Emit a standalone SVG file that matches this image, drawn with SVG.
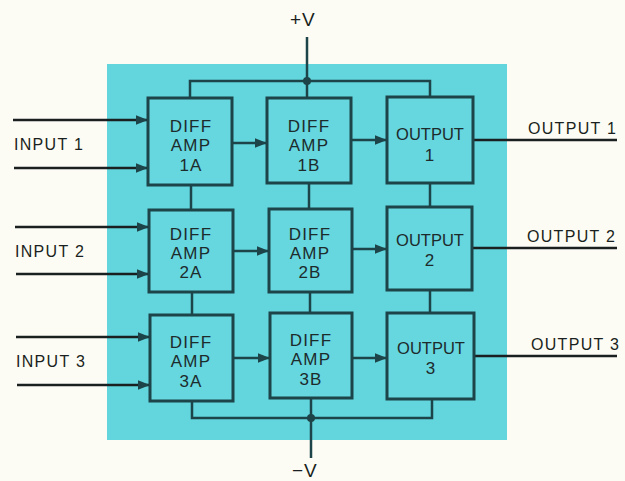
<svg xmlns="http://www.w3.org/2000/svg" width="625" height="481" viewBox="0 0 625 481">
<defs>
<marker id="ah" viewBox="0 0 10 10" refX="10" refY="5" markerWidth="5" markerHeight="5" orient="auto" markerUnits="strokeWidth">
<path d="M0,1 L10,5 L0,9 Z" fill="#1d4448"/>
</marker>
</defs>
<style>
.bg{fill:#fcfcf4}
.panel{fill:#62d5dd}
.box{fill:#66d6df;stroke:#1d4448;stroke-width:3}
.ln{stroke:#1d4448;stroke-width:2.5;fill:none}
.lo{stroke:#1a1f20;stroke-width:2.5;fill:none}
.t{font-family:"Liberation Sans",Arial,sans-serif;font-size:17px;fill:#1d2b2c;text-anchor:middle;letter-spacing:1.2px}
.o{letter-spacing:0px;font-size:16.5px}
.lab{font-family:"Liberation Sans",Arial,sans-serif;font-size:16px;fill:#1a1f20;letter-spacing:1.3px}
.pv{font-size:19px;letter-spacing:1px}
</style>
<rect class="bg" x="0" y="0" width="625" height="481"/>
<rect class="panel" x="107" y="64" width="400" height="376"/>
<g id="connectors">
<path class="ln" d="M190,98 V81 H430 V97"/>
<path class="ln" d="M307,37 V98"/>
<circle cx="307" cy="81" r="4" fill="#1d4448"/>
<path class="ln" d="M192,401 V418 H432 V399"/>
<path class="ln" d="M311,398 V458"/>
<circle cx="311" cy="418" r="4" fill="#1d4448"/>
<path class="ln" d="M191,185 V210"/>
<path class="ln" d="M309,183 V209"/>
<path class="ln" d="M430,183 V207"/>
<path class="ln" d="M192,292 V315"/>
<path class="ln" d="M310,292 V313"/>
<path class="ln" d="M430,290 V313"/>
<path class="lo" d="M13,120 H148" marker-end="url(#ah)"/>
<path class="lo" d="M14,168 H148" marker-end="url(#ah)"/>
<path class="lo" d="M15,227 H149" marker-end="url(#ah)"/>
<path class="lo" d="M16,274 H149" marker-end="url(#ah)"/>
<path class="lo" d="M16,337 H150" marker-end="url(#ah)"/>
<path class="lo" d="M17,385 H150" marker-end="url(#ah)"/>
<path class="ln" d="M232,143 H267" marker-end="url(#ah)"/>
<path class="ln" d="M351,140 H387" marker-end="url(#ah)"/>
<path class="ln" d="M233,251 H269" marker-end="url(#ah)"/>
<path class="ln" d="M352,249 H387" marker-end="url(#ah)"/>
<path class="ln" d="M233,358 H270" marker-end="url(#ah)"/>
<path class="ln" d="M352,358 H387" marker-end="url(#ah)"/>
<path class="lo" d="M473,140 H617"/>
<path class="lo" d="M472,248 H617"/>
<path class="lo" d="M474,356 H617"/>
</g>
<g id="n1A"><rect class="box" x="148" y="98" width="84" height="87"/><text class="t" x="191" y="132">DIFF</text><text class="t" x="191" y="151">AMP</text><text class="t" x="191" y="171">1A</text></g>
<g id="n1B"><rect class="box" x="267" y="98" width="84" height="85"/><text class="t" x="309" y="132">DIFF</text><text class="t" x="309" y="151">AMP</text><text class="t" x="309" y="171">1B</text></g>
<g id="o1"><rect class="box" x="387" y="97" width="86" height="86"/><text class="t o" x="430" y="140">OUTPUT</text><text class="t" x="430" y="161">1</text></g>
<g id="n2A"><rect class="box" x="149" y="210" width="84" height="82"/><text class="t" x="191" y="240">DIFF</text><text class="t" x="191" y="259">AMP</text><text class="t" x="191" y="278">2A</text></g>
<g id="n2B"><rect class="box" x="269" y="209" width="83" height="83"/><text class="t" x="310" y="240">DIFF</text><text class="t" x="310" y="259">AMP</text><text class="t" x="310" y="278">2B</text></g>
<g id="o2"><rect class="box" x="387" y="207" width="85" height="83"/><text class="t o" x="430" y="246">OUTPUT</text><text class="t" x="430" y="266">2</text></g>
<g id="n3A"><rect class="box" x="150" y="315" width="83" height="86"/><text class="t" x="191" y="348">DIFF</text><text class="t" x="191" y="367">AMP</text><text class="t" x="191" y="387">3A</text></g>
<g id="n3B"><rect class="box" x="270" y="313" width="82" height="85"/><text class="t" x="311" y="346">DIFF</text><text class="t" x="311" y="365">AMP</text><text class="t" x="311" y="385">3B</text></g>
<g id="o3"><rect class="box" x="387" y="313" width="87" height="86"/><text class="t o" x="431" y="354">OUTPUT</text><text class="t" x="431" y="374">3</text></g>
<g id="labels">
<text class="lab" x="14" y="150">INPUT 1</text>
<text class="lab" x="15" y="257">INPUT 2</text>
<text class="lab" x="16" y="367">INPUT 3</text>
<text class="lab" x="528" y="134">OUTPUT 1</text>
<text class="lab" x="527" y="242">OUTPUT 2</text>
<text class="lab" x="531" y="350">OUTPUT 3</text>
<text class="lab pv" x="290" y="26">+V</text>
<text class="lab pv" x="292" y="477">−V</text>
</g>
</svg>
